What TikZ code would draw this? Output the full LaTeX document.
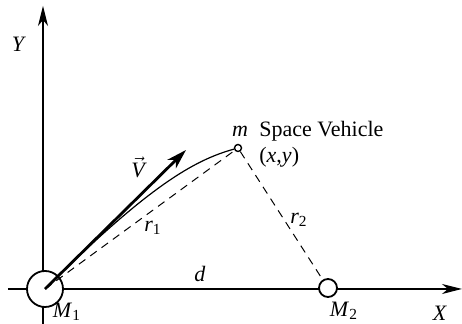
\documentclass[tikz,border=0pt]{standalone}
\usepackage{fontspec}
\setmainfont{Liberation Serif}
\usetikzlibrary{arrows.meta}
\begin{document}
\begin{tikzpicture}[x=0.5pt,y=-0.5pt,
  axis/.style={line width=0.6pt,-{Stealth[length=10pt,width=5pt,inset=3pt]}},
  body/.style={circle,draw,line width=0.9pt,inner sep=0pt},
  dashline/.style={line width=0.5pt,dash pattern=on 4pt off 3pt},
  lbl/.style={inner sep=0pt,font=\fontsize{11}{13}\selectfont}]
\useasboundingbox (0,0) rectangle (462,324);
\coordinate (yb) at (43,324);
\coordinate (yt) at (43,6);
\coordinate (xl) at (8,289);
\coordinate (xr) at (462,289);
\draw[axis] (yb) -- (yt);
\draw[axis] (xl) -- (xr);
\node[body,minimum size=18pt,fill=white] (M1) at (45,289) {};
\node[body,minimum size=9pt,fill=white] (M2) at (328,288) {};
\node[body,minimum size=3.5pt,line width=0.7pt,fill=white] (m) at (238,148) {};
\draw[dashline] (M1.center) -- (m);
\draw[dashline] (m) -- (M2);
\coordinate (vt) at (186,150);
\draw[line width=0.6pt] (M1.center) .. controls (150,184.5) and (195,160) .. (m);
\draw[line width=1.4pt,-{Stealth[length=10pt,width=6pt,inset=3pt]}] (M1.center) -- (vt);
\node[lbl] (Y) at (19,44) {\textit{Y}};
\node[lbl] (X) at (440,313) {\textit{X}};
\node[lbl] (V) at (138,167) {$\vec{\textit{V}}$};
\node[lbl] (r1) at (153,228) {\textit{r}\textsubscript{1}};
\node[lbl] (r2) at (299,220) {\textit{r}\textsubscript{2}};
\node[lbl] (d) at (200,274) {\textit{d}};
\node[lbl] (M1l) at (67,312) {\textit{M}\textsubscript{1}};
\node[lbl] (M2l) at (344,311) {\textit{M}\textsubscript{2}};
\node[lbl] (mlbl) at (240,131) {\textit{m}};
\node[lbl,anchor=west] (sv) at (259,131) {Space Vehicle};
\node[lbl,anchor=west] (xy) at (259,157) {(\textit{x},\textit{y})};
\end{tikzpicture}
\end{document}
